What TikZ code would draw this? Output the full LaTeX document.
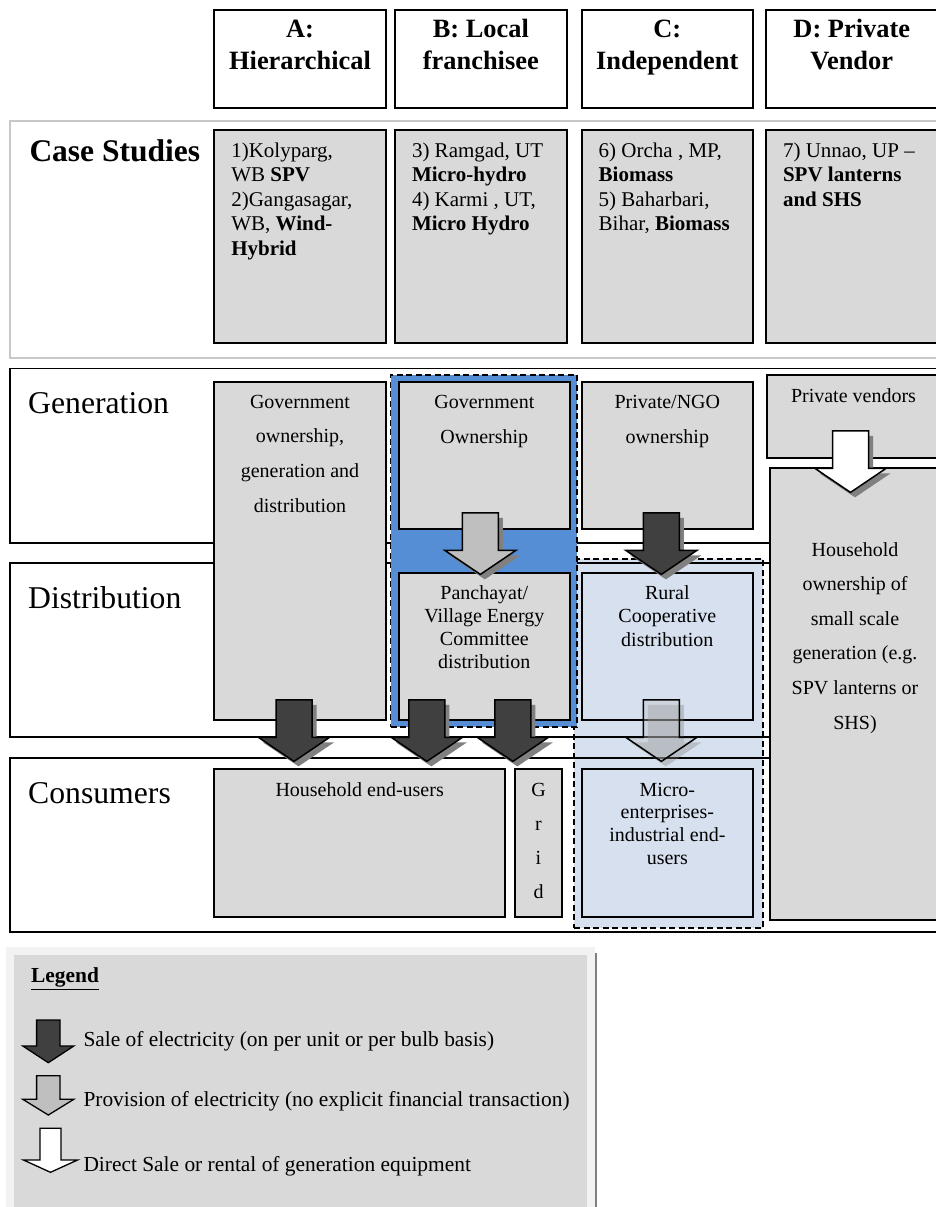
\documentclass[tikz,border=0pt]{standalone}
\usepackage{fontspec}
\setmainfont{Liberation Serif}
\usetikzlibrary{fit}
\usetikzlibrary{calc}

\definecolor{boxgrey}{RGB}{217,217,217}
\definecolor{darkarrow}{RGB}{64,64,64}
\definecolor{midarrow}{RGB}{191,191,191}
\definecolor{shadowgrey}{RGB}{128,128,128}
\definecolor{franchblue}{RGB}{85,142,213}
\definecolor{indepblue}{RGB}{214,224,238}
\definecolor{caseframe}{RGB}{200,200,200}
\definecolor{keyframe}{RGB}{242,242,242}

\tikzset{
    headbox/.style={draw, line width=1.8pt, inner sep=0pt},
    greybox/.style={draw, fill=boxgrey, line width=1.8pt, inner sep=0pt},
    rowbox/.style={draw, line width=1.6pt, inner sep=0pt},
    headtext/.style={font=\bfseries\fontsize{26.4}{32}\selectfont, align=center, anchor=base, inner sep=0pt},
    casetext/.style={font=\fontsize{21}{24.4}\selectfont, align=left, anchor=base west, inner sep=0pt},
    rowlabel/.style={font=\fontsize{31.7}{38}\selectfont, anchor=base west, inner sep=0pt},
    widetext/.style={font=\fontsize{20}{34.7}\selectfont, align=center, anchor=base, inner sep=0pt},
    tighttext/.style={font=\fontsize{20}{23}\selectfont, align=center, anchor=base, inner sep=0pt},
    keytext/.style={font=\fontsize{21.4}{25}\selectfont, anchor=base west, inner sep=0pt},
    shadowfill/.style={fill=shadowgrey},
    pics/mainarrow/.style={code={
        \fill[shadowfill, shift={(4.5,5)}] (-18,0) -- (18,0) -- (18,37.5) -- (35.5,37.5) -- (0,61.5) -- (-35.5,37.5) -- (-18,37.5) -- cycle;
        \draw[line width=1.5pt, pic actions] (-18,0) -- (18,0) -- (18,37.5) -- (35.5,37.5) -- (0,61.5) -- (-35.5,37.5) -- (-18,37.5) -- cycle;
    }},
    pics/keyarrow/.style args={#1/#2/#3/#4}{code={
        \draw[line width=1.3pt, pic actions] (-#1,0) -- (#1,0) -- (#1,#2) -- (#3,#2) -- (0,#2+#4) -- (-#3,#2) -- (-#1,#2) -- cycle;
    }},
}

\begin{document}
\begin{tikzpicture}[x=1pt, y=-1pt]
    \useasboundingbox (0,0) rectangle (936,1207);

    % model headers (text nodes sit on their last baseline)
    \node[headbox, fit={(214.3,10.3) (385.7,108)}] (headA) {};
    \node[headbox, fit={(395,10.3) (566.7,108)}] (headB) {};
    \node[headbox, fit={(581.7,10.3) (752.7,108)}] (headC) {};
    \node[headbox, fit={(766,10.3) (937.5,108)}] (headD) {};
    \node[headtext] (headAtext) at ($(headA.north)+(0,59.7)$) {A:\\Hierarchical};
    \node[headtext] (headBtext) at ($(headB.north)+(0,59.7)$) {B: Local\\franchisee};
    \node[headtext] (headCtext) at ($(headC.north)+(0,59.7)$) {C:\\Independent};
    \node[headtext] (headDtext) at ($(headD.north)+(0,59.7)$) {D: Private\\Vendor};

    % case studies
    \node[draw=caseframe, line width=2pt, inner sep=0pt, fit={(10,120.7) (945,358.3)}] (caserow) {};
    \node[rowlabel, font=\bfseries\fontsize{31.5}{38}\selectfont] (casetitle) at (29.3,161) {Case Studies};
    \node[greybox, fit={(214.3,130) (385.7,343.3)}] (caseA) {};
    \node[greybox, fit={(395,130) (566.7,343.3)}] (caseB) {};
    \node[greybox, fit={(581.7,130) (752.7,343.3)}] (caseC) {};
    \node[greybox, fit={(766,130) (937.5,343.3)}] (caseD) {};
    \node[casetext] (caseAtext) at ($(caseA.north west)+(17.7,125.9)$) {1)Kolyparg,\\WB \textbf{SPV}\\2)Gangasagar,\\WB, \textbf{Wind-}\\\textbf{Hybrid}};
    \node[casetext] (caseBtext) at ($(caseB.north west)+(17.7,101.5)$) {3) Ramgad, UT\\\textbf{Micro-hydro}\\4) Karmi , UT,\\\textbf{Micro Hydro}};
    \node[casetext] (caseCtext) at ($(caseC.north west)+(17.7,101.5)$) {6) Orcha , MP,\\\textbf{Biomass}\\5) Baharbari,\\Bihar, \textbf{Biomass}};
    \node[casetext] (caseDtext) at ($(caseD.north west)+(17.7,77.1)$) {7) Unnao, UP --\\\textbf{SPV lanterns}\\\textbf{and SHS}};

    % value chain rows
    \node[rowbox, fit={(10,368.3) (945,543)}] (genrow) {};
    \node[rowlabel] (genlabel) at (28,413) {Generation};
    \node[draw, dashed, dash pattern=on 6pt off 3.5pt, line width=1.5pt, fill=indepblue, inner sep=0pt, fit={(574,559) (763,928)}] (indepzone) {};
    \node[rowbox, fit={(10,563) (945,737)}] (distrow) {};
    \node[rowlabel] (distlabel) at (28,608) {Distribution};
    \node[rowbox, fit={(10,758) (945,932)}] (consrow) {};
    \node[rowlabel] (conslabel) at (28,803) {Consumers};
    \node[draw, dashed, dash pattern=on 6pt off 3.5pt, line width=1.5pt, fill=franchblue, inner sep=0pt, fit={(390.7,375) (577,727)}] (franchzone) {};

    % A: hierarchical
    \node[greybox, fit={(214.3,382) (385.7,720)}] (govA) {};
    \node[widetext] (govAtext) at ($(govA.north)+(0,131.1)$) {Government\\ownership,\\generation and\\distribution};

    % B: local franchisee
    \node[greybox, fit={(398.7,382) (570,529)}] (govB) {};
    \node[widetext] (govBtext) at ($(govB.north)+(0,62)$) {Government\\Ownership};
    \node[greybox, fit={(398.7,573) (570,720)}] (panch) {};
    \node[tighttext] (panchtext) at ($(panch.north)+(0,96)$) {Panchayat/\\Village Energy\\Committee\\distribution};

    % C: independent
    \node[greybox, fit={(581.7,382) (753,529)}] (privngo) {};
    \node[widetext] (privngotext) at ($(privngo.north)+(0,62)$) {Private/NGO\\ownership};
    \node[greybox, fill=indepblue, fit={(581.7,573) (753,720)}] (rural) {};
    \node[tighttext, font=\fontsize{20}{23.5}\selectfont] (ruraltext) at ($(rural.north)+(0,74)$) {Rural\\Cooperative\\distribution};
    \node[greybox, fill=indepblue, fit={(581.7,769) (753,917)}] (micro) {};
    \node[tighttext, font=\fontsize{20}{22.7}\selectfont] (microtext) at ($(micro.north)+(0,96.1)$) {Micro-\\enterprises-\\industrial end-\\users};

    % D: private vendor
    \node[greybox, fit={(767,375) (940,457.7)}] (vendors) {};
    \node[widetext] (vendorstext) at ($(vendors.north)+(0,28)$) {Private vendors};
    \node[greybox, fit={(770,468) (940,920)}] (homegen) {};
    \node[widetext, font=\fontsize{20}{34.6}\selectfont] (homegentext) at ($(homegen.north)+(0,262)$) {Household\\ownership of\\small scale\\generation (e.g.\\SPV lanterns or\\SHS)};

    % consumers
    \node[greybox, fit={(214.3,769) (505,917)}] (homes) {};
    \node[widetext] (homestext) at ($(homes.north)+(0,28)$) {Household end-users};
    \node[greybox, fit={(515,769) (562,917)}] (grid) {};
    \node[widetext, font=\fontsize{20}{34}\selectfont] (gridtext) at ($(grid.north)+(0,130)$) {G\\r\\i\\d};

    % flows
    \pic[fill=midarrow] at ($(govB.south)+(-4,-17)$) {mainarrow};
    \pic[fill=darkarrow] at ($(privngo.south)+(-6,-17)$) {mainarrow};
    \pic[fill=white] at ($(vendors.south)+(-3,-27.7)$) {mainarrow};
    \pic[fill=darkarrow] at ($(govA.south)+(-6,-21)$) {mainarrow};
    \pic[fill=darkarrow] at ($(panch.south)+(-57.5,-21)$) {mainarrow};
    \pic[fill=darkarrow] at ($(panch.south)+(28.5,-21)$) {mainarrow};
    \pic[fill=midarrow, fill opacity=0.35] at ($(rural.south)+(-6,-21)$) {mainarrow};

    % legend
    \node[fill=keyframe, inner sep=0pt, fit={(6,946.7) (595,1215)}] (keyframe) {};
    \node[fill=boxgrey, inner sep=0pt, fit={(14,955) (587,1215)}] (keybox) {};
    \draw[shadowgrey, line width=1.6pt] (596,952.7) -- (596,1210);
    \node[keytext, font=\bfseries\fontsize{21.4}{25}\selectfont] (keytitle) at (31,982.7) {\underline{Legend}};
    \pic[fill=darkarrow] at (48.3,1020) {keyarrow=11.7/26/25.5/16.7};
    \pic[fill=midarrow] at (48.3,1075.7) {keyarrow=11.7/23.6/25.5/15.7};
    \pic[fill=white] at (50.5,1128.3) {keyarrow=10.5/31.7/27/12.3};
    \node[keytext] (keysale) at (83.3,1046.7) {Sale of electricity (on per unit or per bulb basis)};
    \node[keytext] (keyprov) at (83.3,1106.7) {Provision of electricity (no explicit financial transaction)};
    \node[keytext] (keyequip) at (83.3,1171.7) {Direct Sale or rental of generation equipment};
\end{tikzpicture}
\end{document}
